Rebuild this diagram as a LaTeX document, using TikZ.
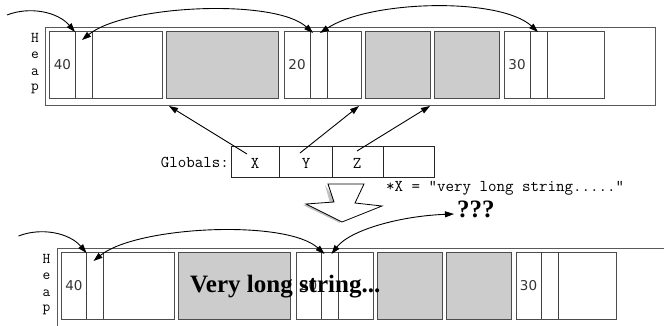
\documentclass[tikz,border=0pt]{standalone}
\usepackage{fontspec}
\setmainfont{Liberation Serif}
\newfontfamily\dsans{DejaVu Sans}
\usetikzlibrary{arrows.meta}
\tikzset{
  outerbox/.style={draw=black!65, line width=1pt, inner sep=0pt, anchor=north west},
  blk/.style={draw=black!70, line width=1.3pt, inner sep=0pt, anchor=north west, minimum height=67pt},
  gblk/.style={blk, fill=black!20},
  divl/.style={draw=black!75, line width=1pt},
  heapl/.style={font=\ttfamily\fontsize{15}{15}\selectfont, inner sep=0pt},
  numl/.style={font=\dsans\fontsize{13.5}{13.5}\selectfont, text=black!80, inner sep=0pt},
  ptr/.style={-{Triangle[length=9pt,width=6pt]}, line width=0.9pt},
  dptr/.style={{Triangle[length=9pt,width=6pt]}-{Triangle[length=9pt,width=6pt]}, line width=0.9pt},
  gcell/.style={draw=black!85, line width=0.9pt, inner sep=0pt, minimum height=31pt, anchor=north west},
  monol/.style={font=\ttfamily\fontsize{16.5}{16.5}\selectfont, inner sep=0pt},
}
\newcommand\heaprow[1]{%
  \node[outerbox, minimum width=610pt, minimum height=78pt] (#1heap) at (45,27) {};
  \node[heapl] (#1H) at (35,38) {H};
  \node[heapl] (#1e) at (35,55) {e};
  \node[heapl] (#1a) at (35,72) {a};
  \node[heapl] (#1p) at (35,89) {p};
  \node[blk, minimum width=113pt] (#1b1) at (49,31) {};
  \node[gblk, minimum width=112pt] (#1b2) at (166,31) {};
  \node[blk, minimum width=77pt] (#1b3) at (284,31) {};
  \node[gblk, minimum width=65pt] (#1b4) at (365,31) {};
  \node[gblk, minimum width=65pt] (#1b5) at (434,31) {};
  \node[blk, minimum width=100pt] (#1b6) at (504,31) {};
  \draw[divl] (75,31) -- (75,98);
  \draw[divl] (92,31) -- (92,98);
  \draw[divl] (310,31) -- (310,98);
  \draw[divl] (327,31) -- (327,98);
  \draw[divl] (530,31) -- (530,98);
  \draw[divl] (547,31) -- (547,98);
  \node[numl] (#1n40) at (62.5,65) {40};
  \node[numl] (#1n20) at (297,65) {20};
  \node[numl] (#1n30) at (517,65) {30};
  \coordinate (#1in) at (7,15);
  \coordinate (#1t40) at (75,32);
  \coordinate (#1s40) at (82,40);
  \coordinate (#1t20) at (313,33);
  \coordinate (#1s20) at (320,33);
  \coordinate (#1t30) at (538,32);
  \draw[ptr] (#1in) .. controls (30,6) and (58,12) .. (#1t40);
  \draw[dptr] (#1s40) .. controls (125,5) and (275,-2) .. (#1t20);
}
\begin{document}
\begin{tikzpicture}[x=1pt,y=-1pt]
\useasboundingbox (0,0) rectangle (664,325);
\clip (0,0) rectangle (664,325);
% top heap
\heaprow{T}
\draw[dptr] (Ts20) .. controls (370,0) and (500,-3) .. (Tt30);
% globals
\node[gcell, minimum width=48pt] (g1) at (231,146) {};
\node[gcell, minimum width=53pt] (g2) at (279,146) {};
\node[gcell, minimum width=51pt] (g3) at (332,146) {};
\node[gcell, minimum width=51pt] (g4) at (383,146) {};
\node[monol, anchor=east] (glob) at (229,162) {Globals:};
\node[monol] (gX) at (255,163) {X};
\node[monol] (gY) at (306,163) {Y};
\node[monol] (gZ) at (357,163) {Z};
\coordinate (xs) at (247,154);
\coordinate (ys) at (300,153);
\coordinate (zs) at (357,151);
\coordinate (xt) at (169,106);
\coordinate (yt) at (359,106);
\coordinate (zt) at (430,106);
\draw[ptr] (xs) -- (xt);
\draw[ptr] (ys) -- (yt);
\draw[ptr] (zs) -- (zt);
% assignment text
\node[monol, anchor=west] (assign) at (386,188) {*X = "very long string....."};
% block arrow
\fill[black!25] (325,185) -- (330,203) -- (303,205) -- (340,223) -- (336,202) -- cycle;
\draw[fill=white, line width=0.8pt] (328,184) -- (364,184) -- (355,203) -- (382,206) -- (342,222) -- (306,204) -- (334,202) -- cycle;
% bottom heap
\begin{scope}[shift={(11.5,221)}]
\heaprow{B}
\end{scope}
\node[font=\bfseries\fontsize{25}{25}\selectfont, inner sep=0pt, anchor=west] (qq) at (457,209) {???};
\coordinate (qqt) at (454,214);
\draw[dptr] (Bs20) .. controls (350,230) and (400,216) .. (qqt);
\node[font=\bfseries\fontsize{25}{25}\selectfont, inner sep=0pt, anchor=base west] (vls) at (190,292) {Very long string...};
\end{tikzpicture}
\end{document}
